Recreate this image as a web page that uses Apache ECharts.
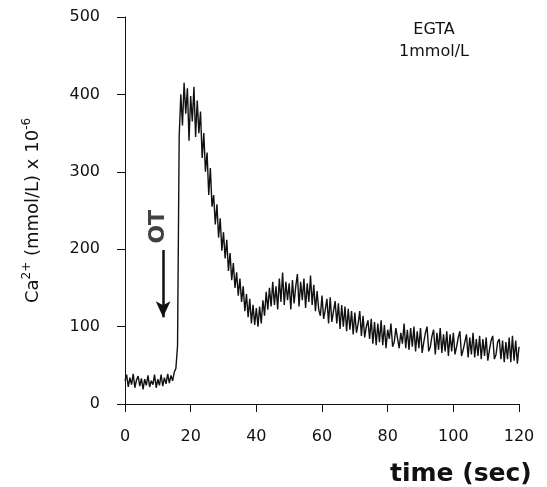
<!DOCTYPE html>
<html>
<head>
<meta charset="utf-8">
<style>
  html, body { margin: 0; padding: 0; background: #fff; }
  #chart { width: 547px; height: 487px; }
</style>
<script src="https://cdn.jsdelivr.net/npm/echarts@6/dist/echarts.min.js"></script>
</head>
<body>
<div id="chart"></div>
<script>
// Ca2+ trace, one sample every 0.5 s (10 per row = 5 s)
const dt = 0.5;
const calcium = [
  30, 38, 22, 34, 25, 39, 21, 31, 36, 23,
  33, 19, 32, 24, 37, 22, 30, 25, 38, 21,
  32, 24, 38, 23, 34, 26, 39, 27, 37, 30,
  41, 46, 75, 345, 400, 360, 415, 375, 408, 340,
  398, 365, 410, 345, 392, 350, 378, 318, 350, 300,
  325, 270, 305, 255, 270, 232, 258, 215, 240, 198,
  222, 188, 212, 172, 195, 160, 182, 150, 170, 140,
  162, 132, 152, 120, 142, 112, 136, 104, 128, 102,
  124, 100, 126, 104, 134, 114, 145, 122, 150, 126,
  158, 128, 152, 122, 162, 132, 170, 128, 158, 134,
  156, 122, 160, 130, 152, 168, 126, 158, 134, 162,
  124, 156, 132, 166, 128, 154, 120, 146, 122, 114,
  140, 110, 122, 136, 104, 138, 106, 120, 133, 104,
  130, 97, 128, 100, 126, 94, 123, 96, 120, 90,
  118, 92, 104, 120, 88, 114, 86, 100, 108, 84,
  110, 78, 106, 76, 104, 80, 108, 76, 102, 72,
  96, 84, 104, 74, 80, 98, 100, 72, 92, 78,
  104, 72, 96, 70, 98, 74, 100, 68, 94, 72,
  98, 66, 80, 92, 100, 68, 74, 88, 96, 64,
  92, 70, 98, 66, 90, 68, 94, 62, 90, 68,
  92, 64, 74, 86, 94, 62, 70, 80, 90, 60,
  86, 64, 92, 60, 84, 62, 88, 58, 84, 62,
  86, 56, 70, 82, 88, 58, 64, 80, 84, 58,
  82, 54, 80, 58, 86, 54, 88, 56, 82, 52,
  74
];

// OT application: label position and arrow (time, Ca2+)
const otLabel = [10.2, 229];
const otArrow = [[11.6, 199], [11.6, 112]];

const xTicks = { min: 0, max: 120, interval: 20 };
const yTicks = { min: 0, max: 500, interval: 100 };

const FONT = '"DejaVu Sans", sans-serif';
const INK = '#111111';

const chart = echarts.init(document.getElementById('chart'), null, { renderer: 'canvas' });

const axisCommon = {
  axisLine: { show: true, lineStyle: { color: INK, width: 1 } },
  axisTick: { show: true, length: 8, lineStyle: { color: INK, width: 1 } },
  splitLine: { show: false },
  axisLabel: { color: INK, fontFamily: FONT, fontSize: 16 },
};

chart.setOption({
  animation: false,
  backgroundColor: '#ffffff',
  grid: { left: 125, right: 28, top: 17, bottom: 83, containLabel: false },
  xAxis: {
    type: 'value',
    ...xTicks,
    ...axisCommon,
    axisLabel: { ...axisCommon.axisLabel, margin: 25 },
  },
  yAxis: {
    type: 'value',
    ...yTicks,
    ...axisCommon,
    axisLabel: { ...axisCommon.axisLabel, margin: 25 },
    name: 'Ca{sup|2+} (mmol/L) x 10{sup|-6}',
    nameLocation: 'middle',
    nameGap: 80,
    nameTextStyle: {
      color: INK, fontFamily: FONT, fontSize: 18, lineHeight: 24,
      rich: { sup: { fontFamily: FONT, fontSize: 12, lineHeight: 13, verticalAlign: 'top', color: INK } },
    },
  },
  graphic: [
    {
      type: 'text', left: 390, top: 462,
      style: { text: 'time (sec)', font: 'bold 25px "DejaVu Sans", sans-serif', fill: INK },
    },
    {
      type: 'text', x: 434, y: 19,
      style: { text: 'EGTA\n1mmol/L', font: '16px "DejaVu Sans", sans-serif', fill: INK, align: 'center', lineHeight: 22 },
    },
  ],
  series: [
    {
      type: 'line',
      data: calcium.map((v, i) => [i * dt, v]),
      showSymbol: false,
      symbol: 'none',
      sampling: null,
      lineStyle: { color: INK, width: 1.4 },
      markLine: {
        silent: true,
        symbol: ['none', 'arrow'],
        symbolSize: [11, 16],
        label: { show: false },
        lineStyle: { color: INK, width: 2.5, type: 'solid' },
        data: [[{ coord: otArrow[0] }, { coord: otArrow[1] }]],
      },
    },
    {
      type: 'scatter',
      data: [otLabel],
      symbolSize: 0,
      silent: true,
      label: {
        show: true,
        position: 'inside',
        formatter: 'OT',
        rotate: 90,
        fontFamily: FONT,
        fontWeight: 'bold',
        fontSize: 22,
        color: INK,
      },
    },
  ],
});
</script>
</body>
</html>
